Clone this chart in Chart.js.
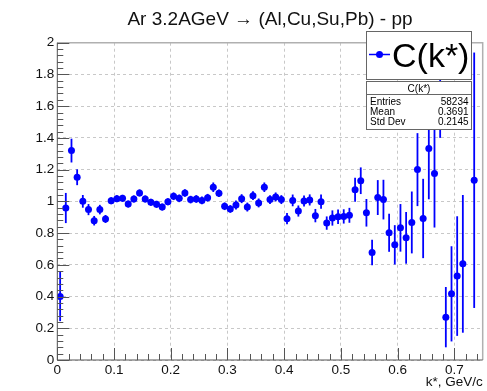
<!DOCTYPE html>
<html>
<head>
<meta charset="utf-8">
<script src="https://cdn.jsdelivr.net/npm/chart.js@4/dist/chart.umd.min.js"></script>
<style>
  html, body { margin: 0; padding: 0; background: #fff; }
  canvas { display: block; }
</style>
</head>
<body>
<canvas id="ckChart" width="487" height="391"></canvas>
<script>
// bin centres, k* (GeV/c)
const kstar = [
  0.005, 0.015, 0.025, 0.035, 0.045, 0.055, 0.065, 0.075, 0.085, 0.095,
  0.105, 0.115, 0.125, 0.135, 0.145, 0.155, 0.165, 0.175, 0.185, 0.195,
  0.205, 0.215, 0.225, 0.235, 0.245, 0.255, 0.265, 0.275, 0.285, 0.295,
  0.305, 0.315, 0.325, 0.335, 0.345, 0.355, 0.365, 0.375, 0.385, 0.395,
  0.405, 0.415, 0.425, 0.435, 0.445, 0.455, 0.465, 0.475, 0.485, 0.495,
  0.505, 0.515, 0.525, 0.535, 0.545, 0.555, 0.565, 0.575, 0.585, 0.595,
  0.605, 0.615, 0.625, 0.635, 0.645, 0.655, 0.665, 0.675, 0.685, 0.695,
  0.705, 0.715, 0.725, 0.735
];
// C(k*) values
const cVal = [
  0.40, 0.958, 1.32, 1.152, 1.00, 0.948, 0.878, 0.948, 0.889, 1.004,
  1.017, 1.019, 0.983, 1.015, 1.053, 1.015, 0.994, 0.981, 0.964, 0.998,
  1.032, 1.019, 1.053, 1.011, 1.015, 1.006, 1.023, 1.089, 1.051, 0.969,
  0.952, 0.977, 1.017, 0.964, 1.036, 0.990, 1.089, 1.011, 1.028, 1.011,
  0.891, 1.006, 0.939, 1.002, 1.009, 0.910, 0.998, 0.863, 0.895, 0.903,
  0.905, 0.912, 1.073, 1.130, 0.928, 0.678, 1.024, 1.011, 0.802, 0.726,
  0.833, 0.770, 0.867, 1.200, 0.892, 1.333, 1.175, 1.630, 0.270, 0.417,
  0.529, 0.606, null, 1.133
];
// statistical errors
const cErr = [
  0.155, 0.095, 0.075, 0.050, 0.040, 0.035, 0.030, 0.030, 0.025, 0.022,
  0.022, 0.022, 0.022, 0.022, 0.022, 0.022, 0.022, 0.022, 0.022, 0.022,
  0.024, 0.024, 0.024, 0.024, 0.024, 0.024, 0.024, 0.030, 0.024, 0.024,
  0.024, 0.028, 0.028, 0.028, 0.028, 0.028, 0.030, 0.028, 0.028, 0.028,
  0.035, 0.037, 0.035, 0.035, 0.035, 0.042, 0.045, 0.042, 0.048, 0.045,
  0.045, 0.047, 0.076, 0.084, 0.087, 0.080, 0.110, 0.125, 0.120, 0.124,
  0.150, 0.163, 0.195, 0.230, 0.250, 0.320, 0.340, 0.230, 0.190, 0.300,
  0.377, 0.434, null, 0.805
];
const xTicks = [0, 0.1, 0.2, 0.3, 0.4, 0.5, 0.6, 0.7];
const yTicks = [0, 0.2, 0.4, 0.6, 0.8, 1, 1.2, 1.4, 1.6, 1.8, 2];
const statsRows = [['Entries', '58234'], ['Mean', '0.3691'], ['Std Dev', '0.2145']];

const FONT = "'Liberation Sans', Arial, Helvetica, sans-serif";
const BLUE = '#0000ff';

const points = [];
kstar.forEach((k, i) => {
  if (cVal[i] !== null) points.push({ x: k, y: cVal[i] });
});

// vertical error bars, drawn under the markers
const errorBars = {
  id: 'errorBars',
  beforeDatasetsDraw(chart) {
    const { ctx, scales: { x, y } } = chart;
    ctx.save();
    ctx.strokeStyle = BLUE;
    ctx.lineWidth = 1.8;
    kstar.forEach((k, i) => {
      if (cVal[i] === null) return;
      const px = x.getPixelForValue(k);
      ctx.beginPath();
      ctx.moveTo(px, y.getPixelForValue(cVal[i] - cErr[i]));
      ctx.lineTo(px, y.getPixelForValue(cVal[i] + cErr[i]));
      ctx.stroke();
    });
    ctx.restore();
  }
};

// ROOT-like frame, inward ticks, title, legend and stats box
const rootDecor = {
  id: 'rootDecor',
  afterDraw(chart) {
    const { ctx, chartArea: a, scales: { x, y } } = chart;
    ctx.save();

    // frame
    ctx.strokeStyle = '#b0b0b0';
    ctx.lineWidth = 1.5;
    ctx.beginPath();
    ctx.moveTo(a.left, a.top);
    ctx.lineTo(a.right, a.top);
    ctx.lineTo(a.right, a.bottom);
    ctx.stroke();
    ctx.strokeStyle = '#555';
    ctx.lineWidth = 1;
    ctx.beginPath();
    ctx.moveTo(a.left, a.top);
    ctx.lineTo(a.left, a.bottom);
    ctx.lineTo(a.right, a.bottom);
    ctx.stroke();

    // ticks
    ctx.beginPath();
    for (let j = 0; j <= 50; j++) {
      const py = Math.round(y.getPixelForValue(j * 0.04)) + 0.5;
      const len = j % 5 === 0 ? 12 : 6;
      ctx.moveTo(a.left, py);
      ctx.lineTo(a.left + len, py);
    }
    for (let j = 0; j <= 37; j++) {
      const px = Math.round(x.getPixelForValue(j * 0.02)) + 0.5;
      const len = j % 5 === 0 ? 12 : 6;
      ctx.moveTo(px, a.bottom);
      ctx.lineTo(px, a.bottom - len);
    }
    ctx.stroke();

    // title
    ctx.fillStyle = '#111';
    ctx.font = '19px ' + FONT;
    ctx.textAlign = 'center';
    ctx.textBaseline = 'alphabetic';
    ctx.fillText('Ar 3.2AGeV \u2192 (Al,Cu,Su,Pb) - pp', (a.left + a.right) / 2, 25);

    // legend box
    ctx.fillStyle = '#fff';
    ctx.fillRect(366, 31.5, 105.5, 48);
    ctx.strokeStyle = '#666';
    ctx.lineWidth = 1;
    ctx.strokeRect(366.5, 31.5, 105, 48);
    ctx.strokeStyle = BLUE;
    ctx.lineWidth = 1.5;
    ctx.beginPath();
    ctx.moveTo(369, 54.5);
    ctx.lineTo(390, 54.5);
    ctx.stroke();
    ctx.fillStyle = BLUE;
    ctx.beginPath();
    ctx.arc(379.5, 54.5, 3.5, 0, Math.PI * 2);
    ctx.fill();
    ctx.fillStyle = '#000';
    ctx.font = '34px ' + FONT;
    ctx.textAlign = 'left';
    ctx.fillText('C(k*)', 392, 67);

    // stats box
    ctx.fillStyle = '#fff';
    ctx.fillRect(366, 81.5, 105.5, 48);
    ctx.strokeStyle = '#666';
    ctx.lineWidth = 1;
    ctx.strokeRect(366.5, 81.5, 105, 48);
    ctx.beginPath();
    ctx.moveTo(366.5, 94.5);
    ctx.lineTo(471.5, 94.5);
    ctx.stroke();
    ctx.fillStyle = '#000';
    ctx.font = '10px ' + FONT;
    ctx.textAlign = 'center';
    ctx.fillText('C(k*)', 419, 91.5);
    statsRows.forEach((r, i) => {
      const by = 104.5 + i * 10.2;
      ctx.textAlign = 'left';
      ctx.fillText(r[0], 370, by);
      ctx.textAlign = 'right';
      ctx.fillText(r[1], 468.5, by);
    });

    ctx.restore();
  }
};

Chart.defaults.font.family = FONT;
Chart.defaults.color = '#111';

const fmt = (v) => String(Math.round(v * 100) / 100);

new Chart(document.getElementById('ckChart'), {
  type: 'scatter',
  data: {
    datasets: [{
      label: 'C(k*)',
      data: points,
      pointRadius: 3.5,
      pointHoverRadius: 3.5,
      pointBackgroundColor: BLUE,
      pointBorderWidth: 0,
      showLine: false
    }]
  },
  options: {
    responsive: false,
    animation: false,
    layout: { padding: { top: 42.7, right: 4.3, left: 0, bottom: 0 } },
    plugins: {
      legend: { display: false },
      tooltip: { enabled: false }
    },
    scales: {
      x: {
        type: 'linear',
        min: 0,
        max: 0.75,
        afterBuildTicks: (scale) => { scale.ticks = xTicks.map(v => ({ value: v })); },
        afterFit: (scale) => { scale.height = 31; },
        grid: { color: '#c8c8c8', lineWidth: 1, drawTicks: false },
        border: { display: false, dash: [3, 3] },
        ticks: { autoSkip: false, maxRotation: 0, padding: 2, font: { size: 13.5 }, color: '#111', callback: fmt },
        title: {
          display: true,
          text: 'k*, GeV/c',
          align: 'end',
          font: { size: 13.5 },
          color: '#111',
          padding: { top: 0, bottom: 1 }
        }
      },
      y: {
        min: 0,
        max: 2,
        afterBuildTicks: (scale) => { scale.ticks = yTicks.map(v => ({ value: v })); },
        afterFit: (scale) => { scale.width = 57.3; },
        grid: { color: '#c8c8c8', lineWidth: 1, drawTicks: false },
        border: { display: false, dash: [3, 3] },
        ticks: { padding: 3, font: { size: 13.5 }, color: '#111', callback: fmt }
      }
    }
  },
  plugins: [errorBars, rootDecor]
});
</script>
</body>
</html>
